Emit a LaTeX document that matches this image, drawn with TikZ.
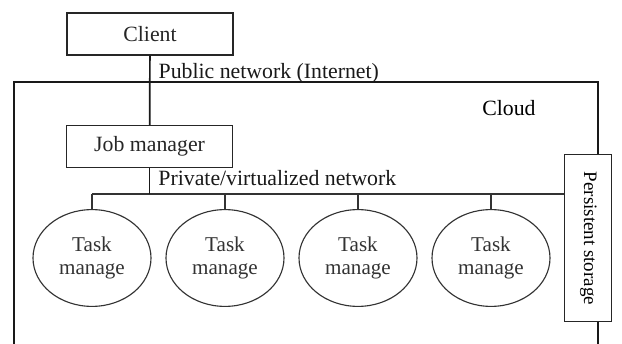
\documentclass[tikz,border=0pt]{standalone}
\usepackage{fontspec}
\setmainfont{Liberation Serif}
\usepackage{tikz}
\usetikzlibrary{positioning}
\usetikzlibrary{shapes.geometric}

\begin{document}
\begin{tikzpicture}[font=\fontsize{15.5}{17}\selectfont,
	box/.style = {draw, black!85, thick, minimum width=4.15cm, minimum height=1.05cm, inner sep=0pt},
	task/.style = {draw, black!80, thick, ellipse, minimum width=2.95cm, minimum height=2.42cm, inner sep=0pt, align=center, font=\fontsize{15}{17}\selectfont},
	lbl/.style = {anchor=west, inner sep=0pt}]
		\useasboundingbox (0,0) rectangle (15.55,8.6);
		\node[box] (client) at (3.75,7.75) {Client};
		\node[box] (job) at (3.74,4.94) {Job manager};
		\node[draw, black!85, thick, minimum width=1.175cm, minimum height=4.175cm, inner sep=0pt] (storage) at (14.71,2.64) {};
		\node[rotate=-90, font=\fontsize{13.5}{15}\selectfont] at (storage.center) {Persistent storage};
%		
		\draw[black!90, very thick] (0.35,0) -- (0.35,6.55) -- (14.95,6.55) coordinate (cloudTR) -- (cloudTR |- storage.north); % Cloud
		\draw[black!90, very thick] (cloudTR |- storage.south) -- (14.95,0);
		\node[lbl] (cloudlbl) at (12.05,5.9) {Cloud};
		\draw[black!90, very thick] (client) -- (job) node[lbl, pos=0.25, xshift=0.2cm] (pub) {Public network (Internet)};
		%%%%%%%%%%%%%%%%%%% Task managers
		\foreach \x [count=\xi] in {2.3, 5.625, 8.95, 12.275} {
			\node[task] (task\xi) at (\x,2.15) {Task\\manage};
			\coordinate (tap\xi) at (\x,3.75);
			\draw[black!80, thick] (tap\xi) -- (task\xi.north);
		}
		\draw[black!80, thick] (tap1) -- (tap1 -| storage.west);
		\draw[black!90, very thick] (job) -- (job |- tap1) node[lbl, pos=0.4, xshift=0.2cm] (priv) {Private/virtualized network};
		
\end{tikzpicture}
\end{document}
